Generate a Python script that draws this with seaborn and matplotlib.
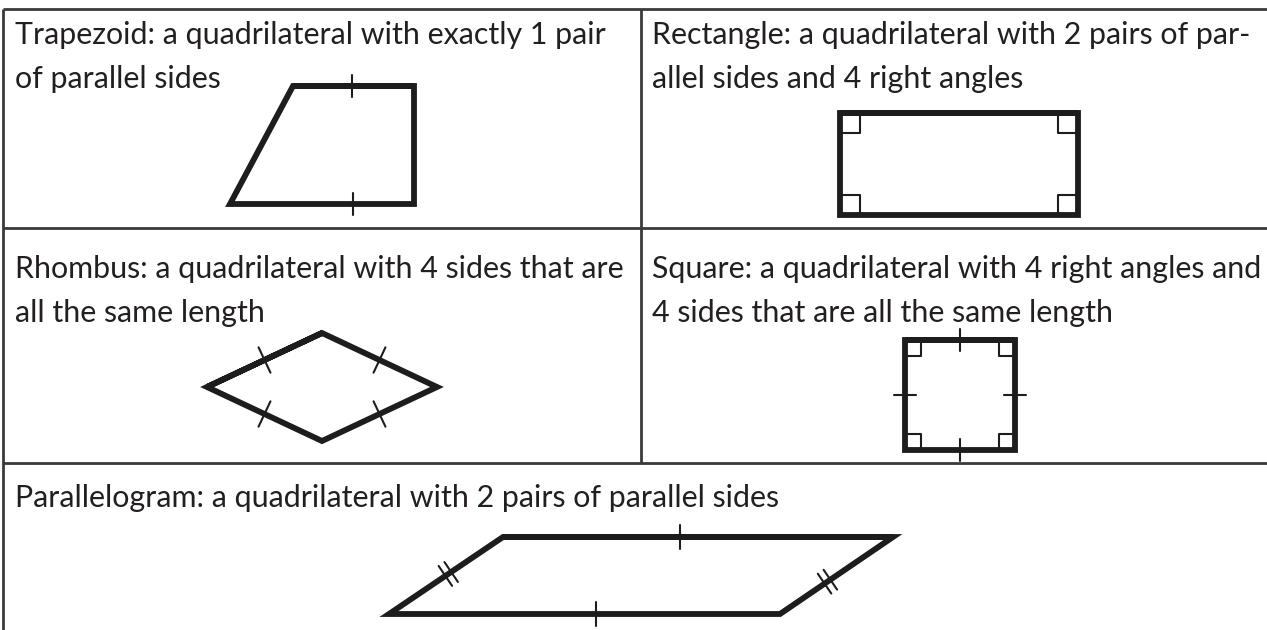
import matplotlib
matplotlib.use("Agg")
import numpy as np
import pandas as pd
import seaborn as sns
import matplotlib.pyplot as plt

# ---------------- data ----------------
captions = [
    ["Trapezoid: a quadrilateral with exactly 1 pair", "of parallel sides"],
    ["Rectangle: a quadrilateral with 2 pairs of par-", "allel sides and 4 right angles"],
    ["Rhombus: a quadrilateral with 4 sides that are", "all the same length"],
    ["Square: a quadrilateral with 4 right angles and", "4 sides that are all the same length"],
    ["Parallelogram: a quadrilateral with 2 pairs of parallel sides"],
]
trapezoid_x = [293, 414, 414, 230]
trapezoid_y = [86, 86, 204, 204]
rectangle_x = [840, 1078, 1078, 840]
rectangle_y = [113, 113, 215, 215]
rhombus_x = [207, 322, 437, 322]
rhombus_y = [387, 333, 387, 441]
square_x = [905, 1015, 1015, 905]
square_y = [340, 340, 450, 450]
parallelogram_x = [503, 893, 780, 389]
parallelogram_y = [537, 537, 614, 614]

# tick marks: (edge fraction, number of marks) per edge
trapezoid_ticks = [(0.49, 1), None, (0.33, 1), None]
rhombus_ticks = [(0.5, 1), (0.5, 1), (0.5, 1), (0.5, 1)]
square_ticks = [(0.5, 1), (0.5, 1), (0.5, 1), (0.5, 1)]
parallelogram_ticks = [(0.454, 1), (0.58, 2), (0.47, 1), (0.52, 2)]

# ---------------- style ----------------
W, H = 1267, 630
sns.set_theme(style="white")
plt.rcParams["font.family"] = ["Lato", "DejaVu Sans"]
INK = "#1d1d1d"
GRID = "#3a3a3a"
TXT = "#231f20"

fig = plt.figure(figsize=(W / 100, H / 100), dpi=100)
ax = fig.add_axes([0, 0, 1, 1])
ax.set_xlim(0, W)
ax.set_ylim(H, 0)
ax.axis("off")

# table grid
grid_lw = 2.0
ax.plot([3, W], [9, 9], color=GRID, lw=grid_lw, solid_capstyle="butt")
ax.plot([3, W], [228, 228], color=GRID, lw=grid_lw, solid_capstyle="butt")
ax.plot([3, W], [463, 463], color=GRID, lw=grid_lw, solid_capstyle="butt")
ax.plot([3, 3], [9, H], color=GRID, lw=grid_lw, solid_capstyle="butt")
ax.plot([641, 641], [9, 463], color=GRID, lw=grid_lw, solid_capstyle="butt")


def outline(xs, ys):
    df = pd.DataFrame({"x": list(xs) + [xs[0], xs[1]], "y": list(ys) + [ys[0], ys[1]]})
    sns.lineplot(data=df, x="x", y="y", sort=False, estimator=None, color=INK,
                 lw=4.2, ax=ax, solid_joinstyle="miter", solid_capstyle="butt")


def ticks(xs, ys, spec, half, gap=7):
    n = len(xs)
    for i, s in enumerate(spec):
        if s is None:
            continue
        frac, count = s
        p0 = np.array([xs[i], ys[i]], float)
        p1 = np.array([xs[(i + 1) % n], ys[(i + 1) % n]], float)
        d = (p1 - p0) / np.linalg.norm(p1 - p0)
        nrm = np.array([-d[1], d[0]])
        c = p0 + frac * (p1 - p0)
        offs = [0.0] if count == 1 else [-gap / 2, gap / 2]
        for o in offs:
            cc = c + o * d
            a, b = cc - half * nrm, cc + half * nrm
            sns.lineplot(x=[a[0], b[0]], y=[a[1], b[1]], sort=False, estimator=None,
                         color=INK, lw=1.5, ax=ax)


def right_angles(xs, ys, size):
    n = len(xs)
    for i in range(n):
        p = np.array([xs[i], ys[i]], float)
        pn = np.array([xs[(i + 1) % n], ys[(i + 1) % n]], float)
        pp = np.array([xs[(i - 1) % n], ys[(i - 1) % n]], float)
        u = (pn - p) / np.linalg.norm(pn - p)
        v = (pp - p) / np.linalg.norm(pp - p)
        a = p + size * u
        b = p + size * (u + v)
        c = p + size * v
        sns.lineplot(x=[a[0], b[0], c[0]], y=[a[1], b[1], c[1]], sort=False,
                     estimator=None, color=INK, lw=1.5, ax=ax)


outline(trapezoid_x, trapezoid_y)
ticks(trapezoid_x, trapezoid_y, trapezoid_ticks, 11)
outline(rectangle_x, rectangle_y)
right_angles(rectangle_x, rectangle_y, 20)
outline(rhombus_x, rhombus_y)
ticks(rhombus_x, rhombus_y, rhombus_ticks, 14)
outline(square_x, square_y)
right_angles(square_x, square_y, 16)
ticks(square_x, square_y, square_ticks, 11)
outline(parallelogram_x, parallelogram_y)
ticks(parallelogram_x, parallelogram_y, parallelogram_ticks, 12)

# captions
pos = [(15, [44, 88]), (652, [44, 88]), (15, [278, 322]), (652, [278, 322]), (15, [507])]
fig.canvas.draw()
r = fig.canvas.get_renderer()
probe = ax.text(0, 0, captions[4][0], fontsize=20, fontweight="normal")
w = probe.get_window_extent(r).width
probe.remove()
fs = 20 * 765 / w
for (x, ys), lines in zip(pos, captions):
    for yy, line in zip(ys, lines):
        ax.text(x, yy, line, fontsize=fs, fontweight="normal", color=TXT,
                ha="left", va="baseline")

fig.savefig("out.png", dpi=100)
